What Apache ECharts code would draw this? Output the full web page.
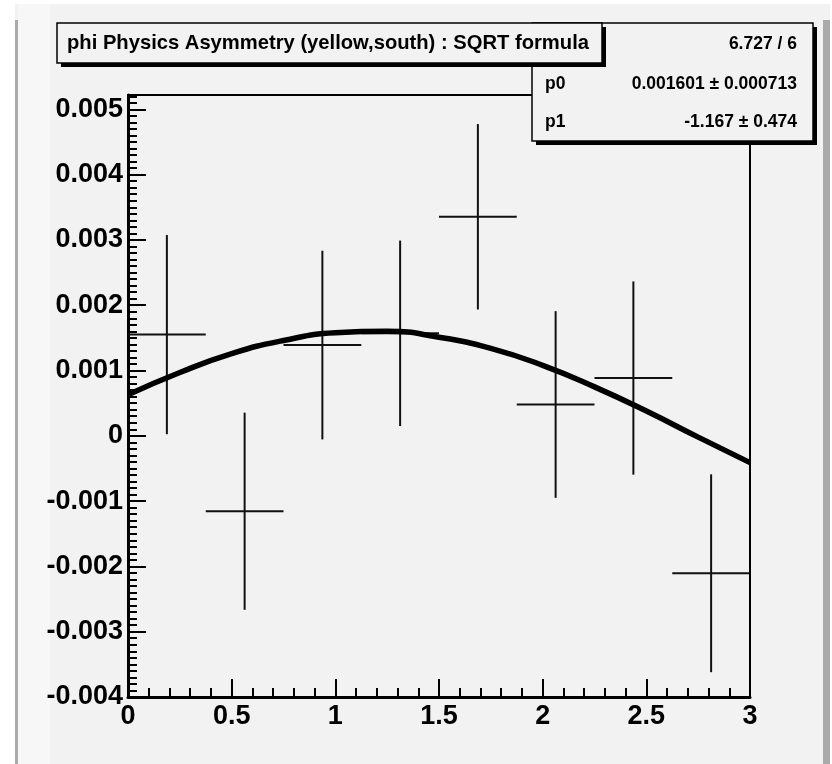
<!DOCTYPE html>
<html>
<head>
<meta charset="utf-8">
<script src="https://cdn.jsdelivr.net/npm/echarts@6/dist/echarts.min.js"></script>
<style>html,body{margin:0;padding:0;background:#fff}#c{width:832px;height:764px}</style>
</head>
<body>
<div id="c"></div>
<script>
// ---- data ----
const binCenters = [0.1875, 0.5625, 0.9375, 1.3125, 1.6875, 2.0625, 2.4375, 2.8125];
const binHalfWidth = 0.1875;
const asymValues = [0.00155, -0.001155, 0.00139, 0.00157, 0.003355, 0.00048, 0.000885, -0.002105];
const asymErrors = [0.001525, 0.00151, 0.001445, 0.00142, 0.00142, 0.00143, 0.00148, 0.001515];
const fitX = [0, 0.25, 0.5, 0.75, 1.0, 1.25, 1.5, 1.75, 2.0, 2.25, 2.5, 2.75, 3.0];
const fitY = [0.00063, 0.00097, 0.00126, 0.00146, 0.00158, 0.00160, 0.00151, 0.00134, 0.00108, 0.00075, 0.00038, -0.00002, -0.00041];
const xTickLabels = ['0', '0.5', '1', '1.5', '2', '2.5', '3'];
const titleText = 'phi Physics Asymmetry (yellow,south) : SQRT formula';
const statRows = [['', '6.727 / 6'], ['p0', '0.001601 \u00b1 0.000713'], ['p1', '-1.167 \u00b1 0.474']];

const FONT = '"Liberation Sans", Arial, Helvetica, sans-serif';
const chart = echarts.init(document.getElementById('c'), null, {renderer: 'canvas'});

const errData = binCenters.map((x, i) => [x, asymValues[i], asymErrors[i], binHalfWidth]);
const fitData = fitX.map((x, i) => [x, fitY[i]]);

function renderErr(params, api) {
  const x = api.value(0), y = api.value(1), e = api.value(2), hw = api.value(3);
  const c = api.coord([x, y]);
  const t = api.coord([x, y + e]);
  const b = api.coord([x, y - e]);
  const l = api.coord([x - hw, y]);
  const r = api.coord([x + hw, y]);
  const st = {stroke: '#111', lineWidth: 2};
  return {type: 'group', children: [
    {type: 'line', shape: {x1: c[0], y1: t[1], x2: c[0], y2: b[1]}, style: st},
    {type: 'line', shape: {x1: l[0], y1: c[1], x2: r[0], y2: c[1]}, style: st}
  ]};
}

const statsLeft = 532, statsTop = 23, statsW = 281, statsH = 118;
const rowY = [45, 85, 123];
const statEls = [];
statRows.forEach((row, i) => {
  if (row[0]) statEls.push({type: 'text', z: 101, left: 545, top: rowY[i] - 10,
    style: {text: row[0], font: 'bold 17.5px ' + FONT, fill: '#000'}});
  statEls.push({type: 'text', z: 101, right: 832 - 797, top: rowY[i] - 10,
    style: {text: row[1], font: 'bold 17.5px ' + FONT, fill: '#000', textAlign: 'right'}});
});

const yMin = -0.004, yMax = 0.00522;

const option = {
  backgroundColor: '#f2f2f2',
  animation: false,
  grid: {left: 128, top: 95, right: 82, bottom: 67, show: true, borderColor: '#000', borderWidth: 2,
    backgroundColor: 'transparent', outerBoundsMode: 'none', containLabel: false},
  xAxis: {
    type: 'value', min: 0, max: 3, interval: 0.5,
    axisLine: {show: true, onZero: false, lineStyle: {color: '#000', width: 3}},
    axisTick: {show: true, inside: true, length: 18, lineStyle: {color: '#000', width: 2}},
    minorTick: {show: true, splitNumber: 5, length: 9, lineStyle: {color: '#000', width: 2}},
    splitLine: {show: false},
    axisLabel: {margin: 6, color: '#000', fontFamily: FONT, fontWeight: 'bold', fontSize: 27,
      formatter: v => xTickLabels[Math.round(v / 0.5)]}
  },
  yAxis: [{
    type: 'value', min: yMin, max: yMax, interval: 0.001, position: 'left',
    axisLine: {show: true, onZero: false, lineStyle: {color: '#000', width: 3}},
    axisTick: {show: true, inside: true, length: 18, lineStyle: {color: '#000', width: 2}},
    splitLine: {show: false},
    axisLabel: {margin: 5, color: '#000', fontFamily: FONT, fontWeight: 'bold', fontSize: 27, showMaxLabel: false,
      formatter: v => Math.abs(v) < 1e-12 ? '0' : v.toFixed(3)}
  }, {
    type: 'value', min: yMin, max: yMax, interval: 0.0001, position: 'left', offset: 0,
    axisLine: {show: false},
    axisTick: {show: true, inside: true, length: 9, lineStyle: {color: '#000', width: 2}},
    splitLine: {show: false},
    axisLabel: {show: false}
  }],
  series: [{
    type: 'custom', renderItem: renderErr, data: errData, z: 3, clip: true,
    encode: {x: 0, y: 1}
  }, {
    type: 'line', data: fitData, smooth: true, showSymbol: false, symbol: 'none', z: 4,
    lineStyle: {color: '#000', width: 5.5}
  }],
  graphic: {elements: [
    {type: 'rect', z: -100, shape: {x: 0, y: 0, width: 832, height: 4}, style: {fill: '#fff'}},
    {type: 'rect', z: -100, shape: {x: 0, y: 0, width: 15, height: 764}, style: {fill: '#fff'}},
    {type: 'rect', z: -99, shape: {x: 15, y: 20, width: 3, height: 744}, style: {fill: '#aaa'}},
    {type: 'rect', z: -99, shape: {x: 18, y: 4, width: 32, height: 760}, style: {fill: '#f7f7f7'}},
    {type: 'rect', z: -99, shape: {x: 823, y: 20, width: 7, height: 744}, style: {fill: '#aaa'}},
    {type: 'rect', z: -99, shape: {x: 830, y: 0, width: 2, height: 764}, style: {fill: '#fff'}},
    // stats box
    {type: 'rect', z: 100, shape: {x: statsLeft + 4, y: statsTop + 4, width: statsW, height: statsH}, style: {fill: '#000'}},
    {type: 'rect', z: 100, shape: {x: statsLeft, y: statsTop, width: statsW, height: statsH}, style: {fill: '#f2f2f2', stroke: '#000', lineWidth: 1.5}},
    ...statEls,
    // title box
    {type: 'rect', z: 110, shape: {x: 61, y: 27, width: 545, height: 40}, style: {fill: '#000'}},
    {type: 'rect', z: 110, shape: {x: 57, y: 23, width: 545, height: 40}, style: {fill: '#f2f2f2', stroke: '#000', lineWidth: 1.5}},
    {type: 'text', z: 111, left: 67, top: 33, style: {text: titleText, font: 'bold 20.2px ' + FONT, fill: '#000'}}
  ]}
};
chart.setOption(option);
</script>
</body>
</html>
